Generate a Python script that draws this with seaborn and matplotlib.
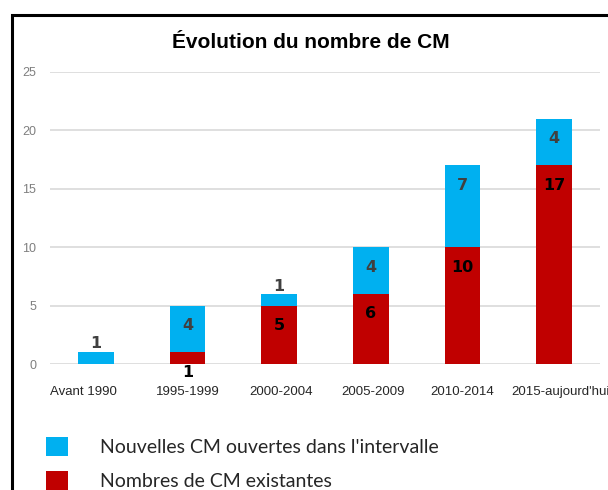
import matplotlib
matplotlib.use("Agg")
import matplotlib.pyplot as plt
import matplotlib.transforms as mtransforms
from matplotlib.patches import Patch, Rectangle
import seaborn as sns
import pandas as pd

# ---- data ----
categories = ["Avant 1990", "1995-1999", "2000-2004", "2005-2009", "2010-2014", "2015-aujourd'hui"]
existing = [0, 1, 5, 6, 10, 17]      # Nombres de CM existantes (red, bottom)
new_open = [1, 4, 1, 4, 7, 4]        # Nouvelles CM ouvertes dans l'intervalle (blue, top)
yticks = [0, 5, 10, 15, 20, 25]
title = "Évolution du nombre de CM"
label_new = "Nouvelles CM ouvertes dans l'intervalle"
label_existing = "Nombres de CM existantes"

# label vertical offsets (pixels) relative to the top of each segment
off_new = [9, -20, 7, -20, -20, -20]
off_existing = [None, -20, -20, -20, -20, -20]
# horizontal shift (pixels) of tick labels
tick_shift = [-12, 0, 2, 2, 0, 6]

BLUE = "#00B0F0"
RED = "#C00000"

sns.set_style("white")
plt.rcParams["font.family"] = ["Liberation Sans", "DejaVu Sans"]

df = pd.DataFrame({"cat": categories, "existing": existing, "new": new_open})
df["total"] = df["existing"] + df["new"]

fig = plt.figure(figsize=(6.08, 4.9), dpi=100)
ax = fig.add_axes([50 / 608, 1 - 364 / 490, 550 / 608, (364 - 72) / 490])

sns.barplot(data=df, x="cat", y="total", color=BLUE, width=0.39, ax=ax,
            saturation=1, linewidth=0)
sns.barplot(data=df, x="cat", y="existing", color=RED, width=0.39, ax=ax,
            saturation=1, linewidth=0)

ax.set_ylim(0, 25)
ax.set_xlim(-0.5, 5.5)
ax.set_yticks(yticks)
ax.set_axisbelow(True)
ax.yaxis.grid(True, color="#D9D9D9", linewidth=1.2)
for s in ax.spines.values():
    s.set_visible(False)
ax.set_xlabel("")
ax.set_ylabel("")
ax.tick_params(axis="y", labelsize=9, labelcolor="#7F7F7F", length=0, pad=10)
ax.tick_params(axis="x", labelsize=9.5, labelcolor="#262626", length=0, pad=16)
for lab, dx in zip(ax.get_xticklabels(), tick_shift):
    lab.set_transform(lab.get_transform() + mtransforms.Affine2D().translate(dx, 0))

# data labels
for i in range(len(categories)):
    tr = mtransforms.offset_copy(ax.transData, fig=fig, x=0, y=off_new[i], units="dots")
    ax.text(i, df["total"][i], str(new_open[i]), transform=tr, ha="center", va="center",
            fontsize=11.5, fontweight="bold", color="#404040", family="DejaVu Sans", clip_on=False)
    if existing[i] > 0:
        tr = mtransforms.offset_copy(ax.transData, fig=fig, x=0, y=off_existing[i], units="dots")
        ax.text(i, existing[i], str(existing[i]), transform=tr, ha="center", va="center",
                fontsize=11.5, fontweight="bold", color="black", family="DejaVu Sans", clip_on=False)

fig.text(311 / 608, 1 - 43 / 490, title, ha="center", va="center",
         fontsize=15, fontweight="bold", color="black")

handles = [Patch(facecolor=BLUE, edgecolor="none"), Patch(facecolor=RED, edgecolor="none")]
fig.legend(handles, [label_new, label_existing], loc="upper left",
           bbox_to_anchor=(46 / 608, 1 - 437 / 490), frameon=False,
           prop={"family": "Lato", "size": 14}, handlelength=1.13, handleheight=1.13,
           handletextpad=1.65, labelspacing=0.76, borderaxespad=0, borderpad=0)

fig.patches.append(Rectangle((12 / 608, -0.1), 1.2, 1 - 15 / 490 + 0.1, transform=fig.transFigure,
                             fill=False, edgecolor="black", linewidth=2.2, zorder=10))

fig.savefig("out.png", dpi=100)
